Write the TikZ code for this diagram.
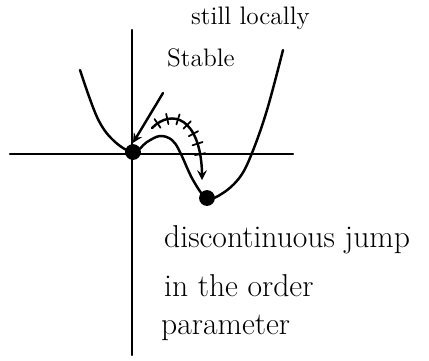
\documentclass[tikz,border=0pt]{standalone}
\usetikzlibrary{decorations.markings}
\begin{document}
\begin{tikzpicture}[>=stealth, x=0.02cm, y=-0.02cm, line width=1.4pt, line cap=round]
    \useasboundingbox (0,0) rectangle (429,360);
    \tikzset{note/.style={font=\fontsize{18}{22}\selectfont, inner sep=0pt, anchor=west},
             topnote/.style={font=\Large, inner sep=0pt, anchor=west}}
    % Axes
    \draw (10,154) -- (293,154);
    \draw (132,30) -- (132,355);
    % Potential
    \draw plot[smooth, tension=0.6] coordinates {(80,70) (97,117) (113,140) (133,152)
        (147,142) (160,136) (172,140) (180,152) (193,180) (207,198) (223,193)
        (240,177) (252,153) (267,110) (283,50)};
    % Minima
    \node[circle, fill, inner sep=0pt, minimum size=9pt] (meta) at (133,152) {};
    \node[circle, fill, inner sep=0pt, minimum size=9pt] (stable) at (207,198) {};
    % Labels
    \node[topnote] (still) at (190,18) {still locally};
    \node[topnote] (stab) at (166,58) {Stable};
    \node[note] (jump) at (163,240) {discontinuous jump};
    \node[note] (order) at (163,286) {in the order};
    \node[note] (param) at (160,328) {parameter};
    % Arrows
    \coordinate (tip) at (163,93);
    \draw[->] (tip) -- (meta.north);
    \draw[postaction={decorate, decoration={markings,
            mark=between positions 0.08 and 0.9 step 0.12 with {\draw[line width=1pt] (0,-3pt) -- (0,3pt);}}}]
        (152,128) .. controls (172,108) and (200,118) .. (202,172);
    \draw[->] (202,168) -- (202,180);
\end{tikzpicture}
\end{document}
